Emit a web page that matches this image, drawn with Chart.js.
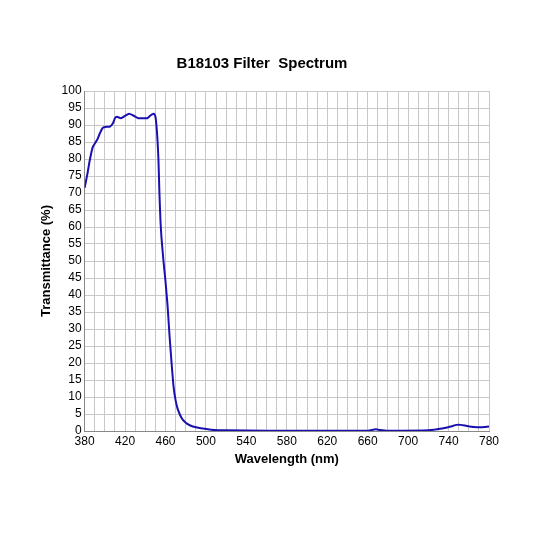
<!DOCTYPE html><html><head><style>body{margin:0;background:#fff}#w{width:533px;height:533px}</style>
<script src="https://cdn.jsdelivr.net/npm/chart.js@4"></script></head><body><div id="w"><canvas id="c"></canvas></div><script>
const wavelengths=[380,383,385,388,390,393,395,398,402,405,408,410,412,416,420,424,428,433,438,442,444,446,448.5,450,451,452,453,454,455,456,458,460,462,464,466,468,470,472,474,476,478,482,487,495,505,520,560,620,660,668,672,680,720,735,742,748,752,758,765,772,780];
const transmittance=[71.5,76,79.5,83.5,84.5,86,87.5,89.2,89.5,89.5,90.5,92,92.4,92,92.7,93.3,92.8,92,92,92,92.5,93,93.3,92.5,90,86,80,70,62,57,50,44,37,28,20,13,9,6.5,5,3.8,3,2,1.3,0.8,0.4,0.2,0.1,0.1,0.1,0.5,0.3,0.1,0.2,0.8,1.3,1.8,1.8,1.5,1.2,1.1,1.3];
const F='"Liberation Sans", Arial, sans-serif';
new Chart(document.getElementById('c'),{type:'line',data:{datasets:[{data:wavelengths.map((x,i)=>({x,y:transmittance[i]})),borderColor:'#1a10b0',borderWidth:2,pointRadius:0,tension:0.2,fill:false}]},
options:{responsive:true,maintainAspectRatio:false,animation:false,layout:{padding:{left:35,right:44,top:55,bottom:66}},
plugins:{legend:{display:false},tooltip:{enabled:false},title:{display:true,text:'B18103 Filter  Spectrum',color:'#000',font:{family:F,size:15,weight:'bold'},padding:{top:0,bottom:18}}},
scales:{x:{type:'linear',min:380,max:780,ticks:{stepSize:10,color:'#000',font:{family:F,size:12},maxRotation:0,autoSkip:false,callback:v=>(v-380)%40===0?v:''},grid:{color:'#c8c8c8',drawTicks:false},border:{color:'#888'},title:{display:true,text:'Wavelength (nm)',color:'#000',font:{family:F,size:13,weight:'bold'},padding:0}},
y:{min:0,max:100,ticks:{stepSize:5,color:'#000',font:{family:F,size:12},autoSkip:false},grid:{color:'#c8c8c8',drawTicks:false},border:{color:'#888'},title:{display:true,text:'Transmittance (%)',color:'#000',font:{family:F,size:13,weight:'bold'},padding:4}}}}});
</script></body></html>
